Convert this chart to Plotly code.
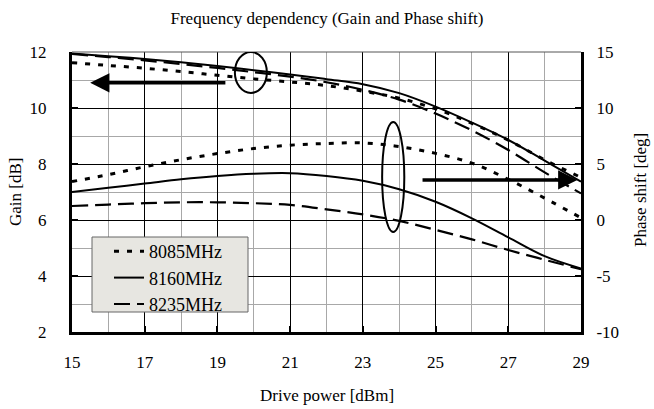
import plotly.graph_objects as go

# ---- data ----
drive_power = [15, 16, 17, 18, 19, 20, 21, 22, 23, 24, 25, 26, 27, 28, 29]

gain_8085 = [11.62, 11.52, 11.42, 11.30, 11.17, 11.04, 10.93, 10.80, 10.60, 10.35, 9.97, 9.45, 8.85, 8.15, 7.52]
gain_8160 = [11.95, 11.85, 11.75, 11.63, 11.50, 11.35, 11.20, 11.03, 10.85, 10.53, 10.05, 9.48, 8.86, 8.12, 7.37]
gain_8235 = [11.93, 11.82, 11.70, 11.57, 11.43, 11.28, 11.12, 10.92, 10.65, 10.30, 9.80, 9.20, 8.50, 7.70, 6.95]

phase_8085 = [3.43, 4.05, 4.75, 5.38, 5.93, 6.38, 6.68, 6.83, 6.88, 6.55, 5.95, 5.08, 3.63, 1.95, 0.20]
phase_8160 = [2.50, 2.88, 3.25, 3.63, 3.93, 4.13, 4.18, 3.93, 3.50, 2.75, 1.63, 0.15, -1.55, -3.23, -4.33]
phase_8235 = [1.25, 1.38, 1.50, 1.58, 1.58, 1.50, 1.35, 0.95, 0.50, -0.08, -0.88, -1.73, -2.68, -3.55, -4.40]

series_names = ["8085MHz", "8160MHz", "8235MHz"]
x_ticks = [15, 17, 19, 21, 23, 25, 27, 29]
gain_ticks = [2, 4, 6, 8, 10, 12]
phase_ticks = [-10, -5, 0, 5, 10, 15]

FONT = "Liberation Serif, Times New Roman, serif"
styles = {
    "8085MHz": dict(color="black", width=3, dash="5px,8px"),
    "8160MHz": dict(color="black", width=2),
    "8235MHz": dict(color="black", width=2.2, dash="16px,7px"),
}

fig = go.Figure()
gains = [gain_8085, gain_8160, gain_8235]
phases = [phase_8085, phase_8160, phase_8235]
for name, g in zip(series_names, gains):
    fig.add_trace(go.Scatter(x=drive_power, y=g, mode="lines", name=name,
                             line=dict(**styles[name], shape="spline"),
                             legendgroup=name, yaxis="y"))
for name, p in zip(series_names, phases):
    fig.add_trace(go.Scatter(x=drive_power, y=p, mode="lines", name=name,
                             line=dict(**styles[name], shape="spline"),
                             legendgroup=name, showlegend=False, yaxis="y2"))

axis_common = dict(
    ticks="inside", ticklen=6, tickwidth=2, tickcolor="black",
    showline=True, linewidth=3, linecolor="black",
    tickfont=dict(family=FONT, size=17, color="black"),
    zeroline=False, automargin=False,
)

fig.update_layout(
    width=654, height=409,
    margin=dict(l=72, r=73, t=52, b=77, autoexpand=False),
    paper_bgcolor="white", plot_bgcolor="white",
    font=dict(family=FONT, size=17, color="black"),
    title=dict(text="Frequency dependency (Gain and Phase shift)",
               x=0.5, xref="container", xanchor="center",
               y=1 - 18 / 409, yref="container", yanchor="middle",
               font=dict(family=FONT, size=17, color="black")),
    xaxis=dict(range=[15, 29], tickmode="array", tickvals=x_ticks,
               ticktext=[str(v) for v in x_ticks],
               showgrid=True, gridcolor="black", gridwidth=1,
               minor=dict(dtick=1, tick0=15, showgrid=True, gridcolor="#a8a8a8", gridwidth=1),
               ticklabelstandoff=13,
               **axis_common),
    yaxis=dict(range=[2, 12], tickmode="array", tickvals=gain_ticks,
               ticktext=[str(v) for v in gain_ticks],
               showgrid=True, gridcolor="black", gridwidth=1,
               minor=dict(dtick=1, tick0=2, showgrid=True, gridcolor="#a8a8a8", gridwidth=1),
               ticklabelstandoff=19,
               **axis_common),
    yaxis2=dict(range=[-10, 15], tickmode="array", tickvals=phase_ticks,
                ticktext=[str(v) for v in phase_ticks],
                overlaying="y", side="right", showgrid=False,
                ticklabelstandoff=9,
                **axis_common),
    showlegend=True,
    legend=dict(x=(109 - 72) / 509, y=(332 - 233) / 280, xanchor="left", yanchor="top",
                bgcolor="rgba(0,0,0,0)", borderwidth=0,
                font=dict(family=FONT, size=18, color="black"),
                tracegroupgap=0, itemwidth=30),
)

# axis titles
fig.add_annotation(text="Drive power [dBm]", xref="paper", yref="paper",
                   x=(327 - 72) / 509, y=-(395 - 332) / 280, showarrow=False,
                   xanchor="center", yanchor="middle", font=dict(family=FONT, size=17))
fig.add_annotation(text="Gain [dB]", xref="paper", yref="paper",
                   x=-(72 - 15) / 509, y=(332 - 192) / 280, showarrow=False, textangle=-90,
                   xanchor="center", yanchor="middle", font=dict(family=FONT, size=17))
fig.add_annotation(text="Phase shift [deg]", xref="paper", yref="paper",
                   x=1 + (640 - 581) / 509, y=(332 - 190) / 280, showarrow=False, textangle=-90,
                   xanchor="center", yanchor="middle", font=dict(family=FONT, size=17))

# top frame line
fig.add_shape(type="line", xref="paper", yref="paper", x0=0, x1=1, y0=1, y1=1,
              line=dict(color="#555555", width=1), layer="above")
# legend box
fig.add_shape(type="rect", xref="paper", yref="paper",
              x0=(92 - 72) / 509, x1=(248 - 72) / 509,
              y0=(332 - 312) / 280, y1=(332 - 237) / 280,
              fillcolor="#e7e6e1", line=dict(color="#666666", width=1), layer="above")

# ellipses marking curve groups
fig.add_shape(type="circle", xref="x", yref="y", x0=19.48, x1=20.36, y0=10.54, y1=12.0,
              line=dict(color="black", width=2), layer="above")
fig.add_shape(type="circle", xref="x", yref="y", x0=23.53, x1=24.14, y0=5.57, y1=9.5,
              line=dict(color="black", width=2), layer="above")

# arrows pointing to the relevant axis
fig.add_annotation(x=15.5, y=10.9, ax=19.26, ay=10.9, xref="x", yref="y",
                   axref="x", ayref="y", text="", showarrow=True,
                   arrowhead=2, arrowsize=1.1, arrowwidth=3.5, arrowcolor="black")
fig.add_annotation(x=28.9, y=7.43, ax=24.6, ay=7.43, xref="x", yref="y",
                   axref="x", ayref="y", text="", showarrow=True,
                   arrowhead=2, arrowsize=1.1, arrowwidth=3.5, arrowcolor="black")

fig.write_html("out.html",
               config={"displayModeBar": False},
               post_script="document.body.style.margin='0';document.body.style.padding='0';")
